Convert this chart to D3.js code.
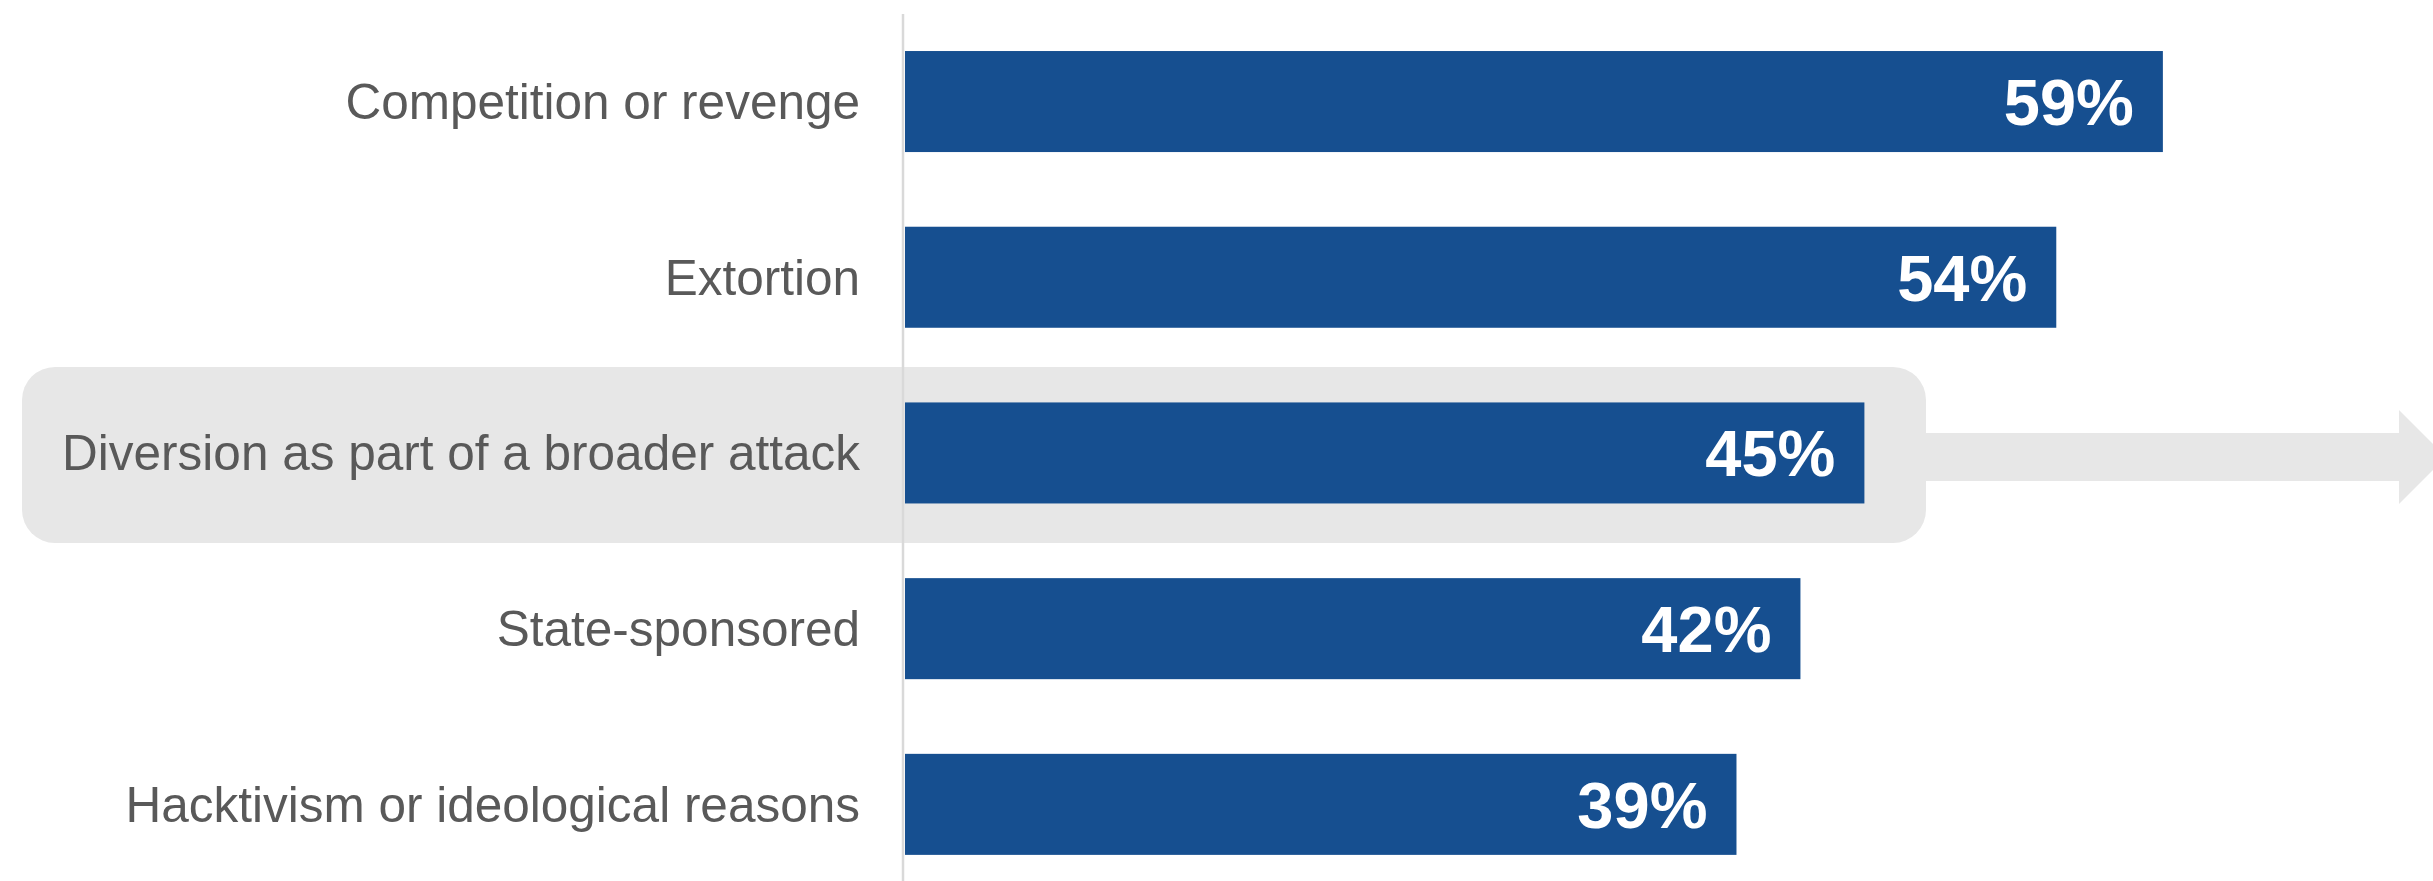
<!DOCTYPE html>
<html>
<head>
<meta charset="utf-8">
<script src="https://cdn.jsdelivr.net/npm/d3@7"></script>
<style>
  html, body { margin: 0; padding: 0; background: #ffffff; }
  svg { display: block; }
</style>
</head>
<body>
<script>
const categories = [
  "Competition or revenge",
  "Extortion",
  "Diversion as part of a broader attack",
  "State-sponsored",
  "Hacktivism or ideological reasons"
];
const values = [59, 54, 45, 42, 39];
const valueLabels = ["59%", "54%", "45%", "42%", "39%"];
const highlighted = "Diversion as part of a broader attack";

const W = 2433, H = 881;
const svg = d3.select("body").append("svg").attr("width", W).attr("height", H);

const x = d3.scaleLinear().domain([0, 100]).range([905, 905 + 2132]);
const y = d3.scaleBand().domain(categories).range([7.1, 898.8]).paddingInner(0.425).paddingOuter(0.25);

// Highlight box + arrow
const hb = y(highlighted);
const bw = y.bandwidth();
const cy = hb + bw / 2;
const boxTop = cy - 86, boxBot = cy + 90, boxLeft = 22, boxRight = 1926;
svg.append("rect")
  .attr("x", boxLeft).attr("y", boxTop)
  .attr("width", boxRight - boxLeft).attr("height", boxBot - boxTop)
  .attr("rx", 33).attr("ry", 33)
  .attr("fill", "#e7e7e7");
const acy = cy + 4;
const shaftH = 24, headH = 47, headStart = 2399, tip = 2446;
svg.append("path")
  .attr("d", `M${boxRight - 5},${acy - shaftH} L${headStart},${acy - shaftH} L${headStart},${acy - headH} L${tip},${acy} L${headStart},${acy + headH} L${headStart},${acy + shaftH} L${boxRight - 5},${acy + shaftH} Z`)
  .attr("fill", "#e7e7e7");

// Bars
const data = categories.map((c, i) => ({ c, v: values[i], l: valueLabels[i] }));
svg.selectAll("rect.bar").data(data).enter().append("rect")
  .attr("class", "bar")
  .attr("x", x(0))
  .attr("y", d => y(d.c))
  .attr("width", d => x(d.v) - x(0))
  .attr("height", bw)
  .attr("fill", "#164f90");

// Value labels
svg.selectAll("text.val").data(data).enter().append("text")
  .attr("class", "val")
  .attr("x", d => x(d.v) - 29)
  .attr("y", d => y(d.c) + bw / 2)
  .attr("dy", "0.36em")
  .attr("text-anchor", "end")
  .attr("font-family", "'Liberation Sans', Arial, sans-serif")
  .attr("font-weight", "bold")
  .attr("font-size", 65)
  .attr("fill", "#ffffff")
  .text(d => d.l);

// Category axis
const axis = d3.axisLeft(y).tickSize(0).tickPadding(43);
const ag = svg.append("g").attr("transform", `translate(903,0)`).call(axis);
ag.select(".domain").remove();
ag.selectAll("text")
  .attr("font-family", "'Liberation Sans', Arial, sans-serif")
  .attr("font-size", 49.5)
  .attr("fill", "#595959")
  .attr("dy", "0.35em");

// Axis line
svg.append("line")
  .attr("x1", 903).attr("x2", 903)
  .attr("y1", 14).attr("y2", H)
  .attr("stroke", "#d9d9d9").attr("stroke-width", 2.5);
</script>
</body>
</html>
